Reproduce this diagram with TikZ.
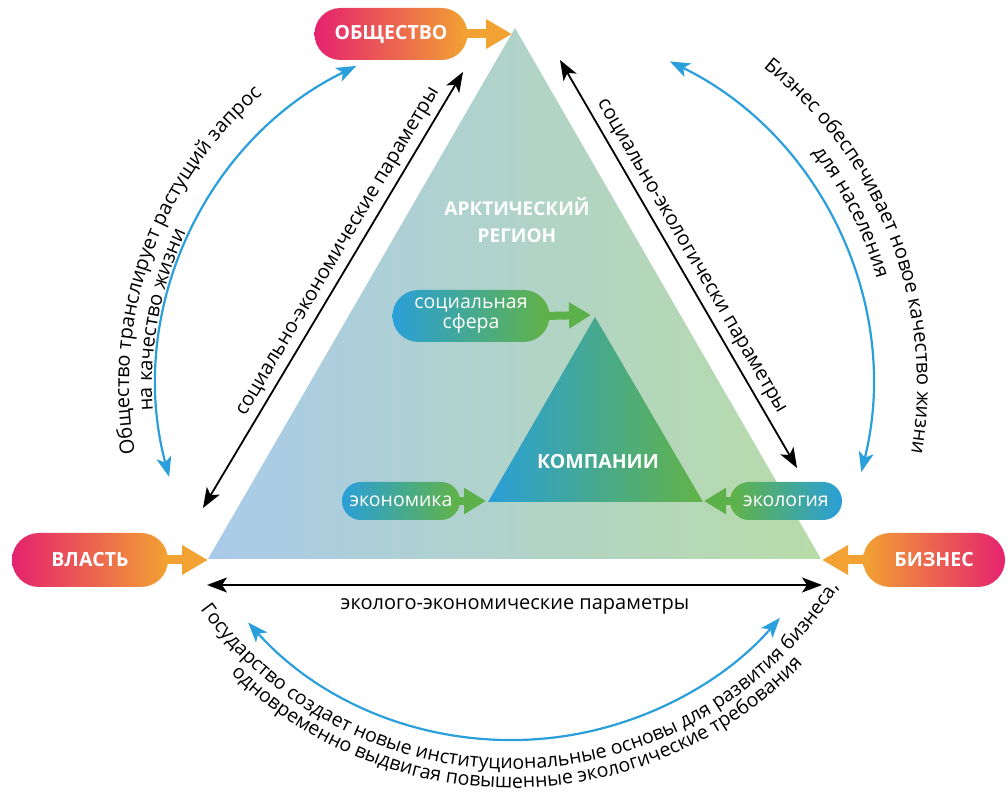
\documentclass[tikz,border=0pt]{standalone}
\usepackage{fontspec}
\setmainfont{Open Sans}
\usetikzlibrary{arrows.meta,shapes.misc,decorations.text,calc}
\definecolor{mag}{HTML}{E5226F}
\definecolor{org}{HTML}{F2A232}
\definecolor{bblue}{HTML}{2A9FD8}
\definecolor{bgreen}{HTML}{62B346}
\definecolor{iteal}{HTML}{3BA894}
\definecolor{garr}{HTML}{5CB14A}
\definecolor{arrblue}{HTML}{2A9FDB}
\definecolor{triL}{HTML}{A9CBEA}
\definecolor{triM}{HTML}{B3D7CE}
\definecolor{triR}{HTML}{B8DBA8}
\begin{document}
\begin{tikzpicture}[x=1pt,y=1pt,
  pill/.style={rounded rectangle, minimum height=52pt, text=white, font=\bfseries\fontsize{19.5}{22}\selectfont, inner sep=0pt},
  warm/.style={left color=mag, right color=org},
  warmr/.style={left color=org, right color=mag},
  ipill/.style={rounded rectangle, text=white, font=\fontsize{19.5}{20}\selectfont, inner sep=0pt, align=center},
  cool/.style={left color=bblue, right color=bgreen},
  coolr/.style={left color=bgreen, right color=bblue},
  fatarrow/.style={draw=org, line width=9pt, -{Triangle[length=26pt,width=28pt]}},
  greenarrow/.style={draw=garr, line width=8pt, -{Triangle[length=22pt,width=25pt]}},
  blk/.style={draw=black, line width=1.8pt, {Stealth[length=20pt,width=15pt,inset=5pt]}-{Stealth[length=20pt,width=15pt,inset=5pt]}},
  blu/.style={draw=arrblue, line width=2.2pt, {Stealth[length=20pt,width=15pt,inset=5pt]}-{Stealth[length=20pt,width=15pt,inset=5pt]}},
  lbl/.style={font=\fontsize{20}{22}\selectfont, inner sep=2pt}
]
\useasboundingbox (0,0) rectangle (1008,792);
\coordinate (C) at (512,407);
% big triangle
\coordinate (T1) at (515,764);
\coordinate (T2) at (208,233);
\coordinate (T3) at (821,233);
\shade[left color=triL, middle color=triM, right color=triR] (T1) -- (T2) -- (T3) -- cycle;
\node[font=\bfseries\fontsize{19}{27}\selectfont, text=white, align=center] (arkt) at (517,572) {АРКТИЧЕСКИЙ\\РЕГИОН};
% inner triangle
\coordinate (I1) at (595,475);
\coordinate (I2) at (488,290);
\coordinate (I3) at (703,290);
\shade[left color=bblue, middle color=iteal, right color=bgreen] (I1) -- (I2) -- (I3) -- cycle;
\node[font=\bfseries\fontsize{19.5}{22}\selectfont, text=white] (komp) at (598,330) {КОМПАНИИ};
% outer pills
\node[pill, warm, minimum width=153pt] (obsh) at (391,758) {ОБЩЕСТВО};
\node[pill, warm, minimum width=156pt, minimum height=54pt] (vlast) at (90,232) {ВЛАСТЬ};
\node[pill, warmr, minimum width=142pt, minimum height=54pt] (biz) at (934,232) {БИЗНЕС};
\coordinate (obshtip) at (512,758);
\coordinate (vlasttip) at (208,232);
\coordinate (biztip) at (822,232);
\draw[fatarrow] ([xshift=-6pt]obsh.east) -- (obshtip);
\draw[fatarrow] ([xshift=-6pt]vlast.east) -- (vlasttip);
\draw[fatarrow] ([xshift=6pt]biz.west) -- (biztip);
% inner pills
\node[ipill, cool, minimum width=157pt, minimum height=52pt] (soc) at (471,476) {социальная\\сфера};
\node[ipill, cool, minimum width=118pt, minimum height=38pt] (econ) at (401,291) {экономика};
\node[ipill, coolr, minimum width=112pt, minimum height=38pt] (ecol) at (786,291) {экология};
\coordinate (soctip) at (591,477);
\coordinate (econtip) at (486,291);
\coordinate (ecoltip) at (704,291);
\draw[greenarrow] ([xshift=-6pt]soc.east) -- (soctip);
\draw[greenarrow] ([xshift=-6pt]econ.east) -- (econtip);
\draw[greenarrow] ([xshift=6pt]ecol.west) -- (ecoltip);
% black arrows
\coordinate (L1) at (203,284);
\coordinate (L2) at (463,720);
\coordinate (R1) at (560,732);
\coordinate (R2) at (797,324);
\coordinate (B1) at (207,207);
\coordinate (B2) at (822,207);
\draw[blk] (L1) -- node[lbl, sloped, above=3pt, pos=0.57] {социально-экономические параметры} (L2);
\draw[blk] (R1) -- node[lbl, sloped, above=3pt, pos=0.5] {социально-экологически параметры} (R2);
\draw[blk] (B1) -- (B2);
\node[lbl] (blbl) at (515,186) {эколого-экономические параметры};
% blue arcs
\draw[blu] ($(C)+(116:355)$) arc[start angle=116, end angle=195, radius=355];
\draw[blu] ($(C)+(64:360)$) arc[start angle=64, end angle=-14, radius=360];
\draw[blu] ($(C)+(222:355)$) arc[start angle=222, end angle=319, radius=355];
% curved texts
\path[decorate, decoration={text along path, text align=center,
  text={|\fontsize{20}{24}\selectfont|Общество транслирует растущий запрос}}]
  ($(C)+(210.5:383)$) arc[start angle=210.5, end angle=110.5, radius=383];
\path[decorate, decoration={text along path, text align=center,
  text={|\fontsize{20}{24}\selectfont|на качество жизни}}]
  ($(C)+(209.5:360)$) arc[start angle=209.5, end angle=129.5, radius=360];
\path[decorate, decoration={text along path, text align=center,
  text={|\fontsize{20}{24}\selectfont|Бизнес обеспечивает новое качество жизни}}]
  ($(C)+(71:405)$) arc[start angle=71, end angle=-29, radius=405];
\path[decorate, decoration={text along path, text align=center,
  text={|\fontsize{20}{24}\selectfont|для населения}}]
  ($(C)+(67:380)$) arc[start angle=67, end angle=-13, radius=380];
\path[decorate, decoration={text along path, text align=center,
  text={|\fontsize{19.5}{24}\selectfont|Государство создает новые институциональные основы для развития бизнеса,}}]
  ($(C)+(202:384)$) arc[start angle=202, end angle=342, radius=384];
\path[decorate, decoration={text along path, text align=center,
  text={|\fontsize{19.5}{24}\selectfont|одновременно выдвигая повышенные экологические требования}}]
  ($(C)+(206:403)$) arc[start angle=206, end angle=336, radius=403];
\end{tikzpicture}
\end{document}
